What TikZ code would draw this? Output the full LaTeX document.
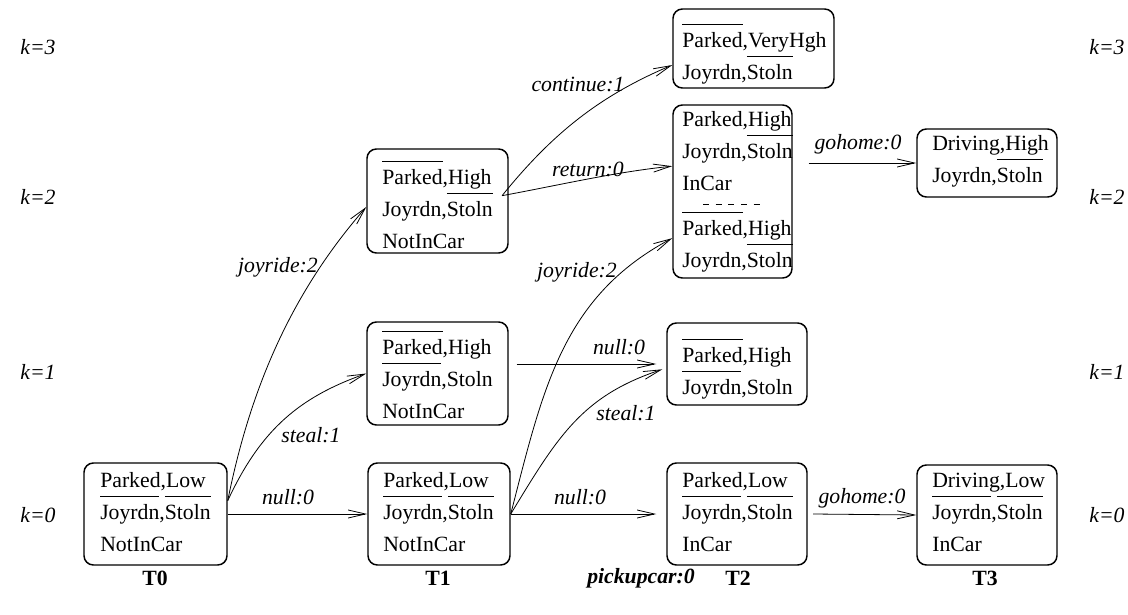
\documentclass[tikz,border=0pt]{standalone}
\usepackage{fontspec}
\setmainfont{Liberation Serif}
\usetikzlibrary{arrows.meta}
% negated fluent: a bar drawn over the word
\newcommand\ovl[1]{\setbox0=\hbox{#1}\rlap{\raise1.02em\hbox{\vrule width\wd0 height0.7pt depth0pt}}\box0}
\begin{document}
\begin{tikzpicture}[x=0.75pt,y=-0.75pt,
  every node/.style={font=\fontsize{16.3}{24}\selectfont},
  box/.style 2 args={draw, line width=1.1pt, rounded corners=7pt, inner sep=0pt,
    minimum width=#1*0.75pt, minimum height=#2*0.75pt},
  txt/.style={align=left, inner sep=0pt, anchor=base west},
  lbl/.style={font=\fontsize{16.3}{24}\selectfont\itshape, inner sep=0pt},
  klab/.style={font=\fontsize{16.3}{24}\selectfont\itshape, inner sep=0pt},
  tlab/.style={font=\fontsize{16.3}{24}\selectfont\bfseries, inner sep=0pt},
  arr/.style={-{Straight Barb[length=13pt,width=6pt]}, line width=0.6pt}]
\fill[white] (0,0) rectangle (1128,614);
\useasboundingbox (0,0) rectangle (1128,614);

% state boxes
\node[box={143}{102}] (a) at (155.5,514) {};
\node[box={142}{102}] (b) at (439,514) {};
\node[box={141}{103}] (c) at (437.5,373.5) {};
\node[box={141}{104}] (d) at (437.5,201) {};
\node[box={161}{79}]  (e) at (753.5,48.5) {};
\node[box={119}{173}] (f) at (732.5,191.5) {};
\node[box={140}{82}]  (g) at (737,364) {};
\node[box={140}{102}] (h) at (737,514) {};
\node[box={140}{68}]  (i) at (987,163) {};
\node[box={140}{100}] (j) at (987,515) {};

% state contents (anchored on the baseline of the last line)
\node[txt] (a-t) at (100,551) {Parked,Low\\\ovl{Joyrdn},\ovl{Stoln}\\NotInCar};
\node[txt] (b-t) at (383,551) {Parked,Low\\\ovl{Joyrdn},\ovl{Stoln}\\NotInCar};
\node[txt] (c-t) at (382,418) {\ovl{Parked},High\\\ovl{Joyrdn},Stoln\\NotInCar};
\node[txt] (d-t) at (382,248) {\ovl{Parked},High\\Joyrdn,\ovl{Stoln}\\NotInCar};
\node[txt] (e-t) at (682,79)  {\ovl{Parked},VeryHgh\\Joyrdn,\ovl{Stoln}};
\node[txt] (f-t1) at (682,190) {Parked,High\\Joyrdn,\ovl{Stoln}\\InCar};
\node[txt] (f-t2) at (682,267) {\ovl{Parked},High\\Joyrdn,\ovl{Stoln}};
\draw[line width=0.6pt, dash pattern=on 4.5pt off 5pt] (703,204) -- (761,204);
\node[txt] (g-t) at (682,394) {\ovl{Parked},High\\\ovl{Joyrdn},Stoln};
\node[txt] (h-t) at (682,551) {Parked,Low\\\ovl{Joyrdn},\ovl{Stoln}\\InCar};
\node[txt] (i-t) at (932,182) {Driving,High\\Joyrdn,\ovl{Stoln}};
\node[txt] (j-t) at (932,551) {Driving,Low\\\ovl{Joyrdn},\ovl{Stoln}\\InCar};

% transitions
\draw[arr] (a.east) -- (b.west);
\draw[arr] ([yshift=10pt]a.east) .. controls (261,429) and (300,397) .. (c.west);
\draw[arr] ([yshift=10pt]a.east) .. controls (251,385) and (293,291) .. ([yshift=-4.5pt]d.west);
\draw[arr] (b.east) -- ([xshift=-7.5pt]h.west);
\draw[arr] (b.east) .. controls (558,436) and (582,396) .. ([xshift=-3pt,yshift=-4pt]g.west);
\draw[arr] (b.east) .. controls (543,389) and (562,297) .. ([yshift=-35pt]f.west);
\draw[arr] ([xshift=6pt]c.east |- g.west) -- ([xshift=-7.5pt]g.west);
\draw[arr] ([xshift=-5pt,yshift=4pt]d.east) .. controls (560,185) and (615,172) .. ([yshift=19pt]f.west);
\draw[arr] ([xshift=-5pt,yshift=4pt]d.east) .. controls (552,134) and (599,96) .. ([yshift=-12.4pt]e.west);
\draw[arr] ([xshift=12pt]f.east |- i.west) -- (i.west);
\draw[arr] ([xshift=4pt]h.east) -- (j.west);

% transition labels
\node[lbl] (l-ab) at (288,497) {null:0};
\node[lbl] (l-ac) at (311,435) {steal:1};
\node[lbl] (l-ad) at (278,267) {joyride:2};
\node[lbl] (l-bh) at (580,497) {null:0};
\node[lbl] (l-bg) at (626,413) {steal:1};
\node[lbl] (l-bf) at (577,272) {joyride:2};
\node[lbl] (l-cg) at (619,347) {null:0};
\node[lbl] (l-df) at (588,169) {return:0};
\node[lbl] (l-de) at (578,84)  {continue:1};
\node[lbl] (l-fi) at (858,144) {gohome:0};
\node[lbl] (l-hj) at (862,498) {gohome:0};

% levels
\node[klab] (k3l) at (38,47)  {k=3};
\node[klab] (k2l) at (38,197) {k=2};
\node[klab] (k1l) at (38,372) {k=1};
\node[klab] (k0l) at (38,515) {k=0};
\node[klab] (k3r) at (1107,47)  {k=3};
\node[klab] (k2r) at (1107,197) {k=2};
\node[klab] (k1r) at (1107,372) {k=1};
\node[klab] (k0r) at (1107,515) {k=0};

% time steps
\node[tlab] (t0) at (155,578) {T0};
\node[tlab] (t1) at (438,578) {T1};
\node[tlab] (t2) at (738,578) {T2};
\node[tlab] (t3) at (985,578) {T3};
\node[tlab, font=\fontsize{16.3}{24}\selectfont\bfseries\itshape] (pc) at (641,578) {pickupcar:0};
\end{tikzpicture}
\end{document}
